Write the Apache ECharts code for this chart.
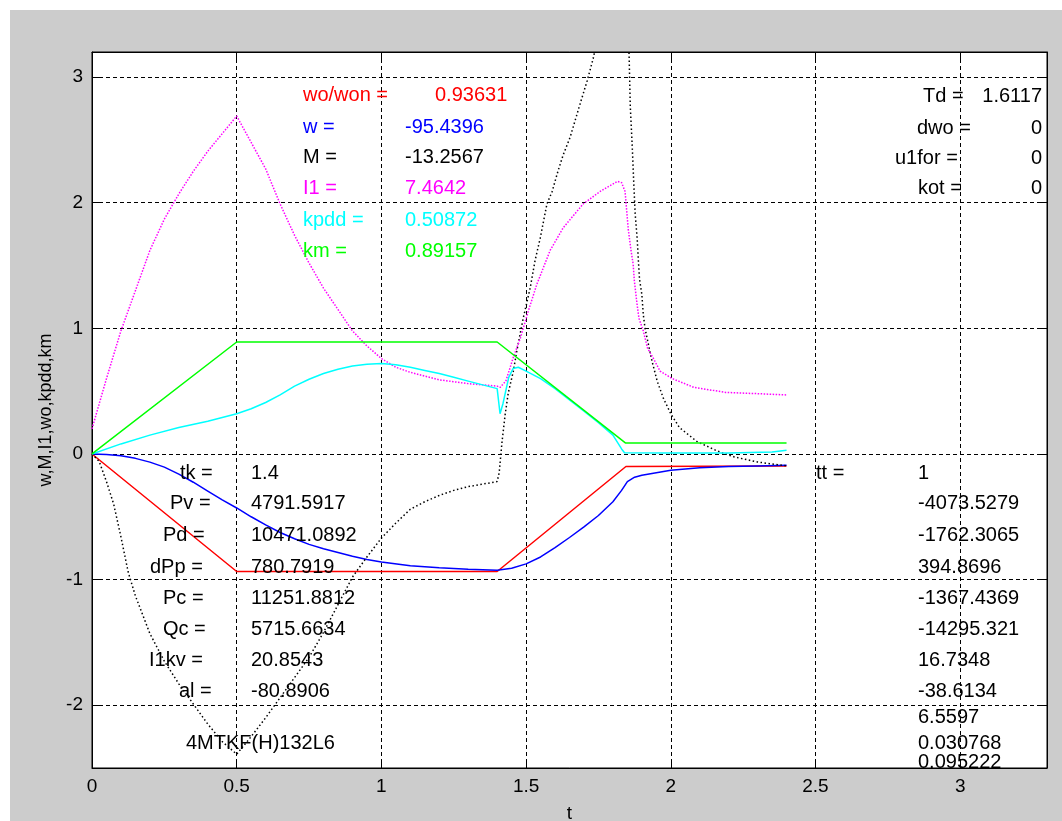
<!DOCTYPE html>
<html>
<head>
<meta charset="utf-8">
<script src="https://cdn.jsdelivr.net/npm/echarts@6/dist/echarts.min.js"></script>
<style>
  html, body { margin: 0; padding: 0; background: #ffffff; width: 1062px; height: 821px; overflow: hidden; }
  #frame { position: absolute; left: 10px; top: 10px; width: 1052px; height: 811px; background: #cccccc; }
  #chart { position: absolute; left: 0; top: 0; width: 1062px; height: 821px; }
</style>
</head>
<body>
<div id="frame"></div>
<div id="chart"></div>
<script>
// ---- simulated start-up traces: [t, value] ----
const woWon = [[0, 0], [0.5, -0.936], [1.4, -0.936], [1.845, -0.1], [2.4, -0.095]];

const wSpeed = [[0, 0], [0.05, -0.004], [0.1, -0.015], [0.15, -0.035], [0.2, -0.065], [0.25, -0.105],
  [0.3, -0.16], [0.35, -0.225], [0.4, -0.295], [0.45, -0.365], [0.5, -0.43], [0.55, -0.5], [0.6, -0.565],
  [0.65, -0.625], [0.7, -0.675], [0.75, -0.72], [0.8, -0.755], [0.85, -0.785], [0.9, -0.815], [0.95, -0.84],
  [1.0, -0.86], [1.1, -0.89], [1.2, -0.905], [1.3, -0.918], [1.4, -0.925], [1.45, -0.91], [1.5, -0.875],
  [1.55, -0.82], [1.6, -0.745], [1.65, -0.665], [1.7, -0.58], [1.75, -0.49], [1.8, -0.38], [1.83, -0.29],
  [1.85, -0.22], [1.875, -0.185], [1.9, -0.17], [1.95, -0.15], [2.0, -0.13], [2.1, -0.11], [2.2, -0.1],
  [2.3, -0.095], [2.4, -0.09]];

const mTorque = [[0, 0], [0.025, -0.06], [0.05, -0.22], [0.075, -0.4], [0.1, -0.66], [0.125, -0.94],
  [0.15, -1.13], [0.2, -1.43], [0.25, -1.65], [0.3, -1.83], [0.35, -1.99], [0.4, -2.15], [0.45, -2.29],
  [0.5, -2.39], [0.55, -2.25], [0.6, -2.1], [0.65, -1.94], [0.7, -1.78], [0.75, -1.62], [0.8, -1.42],
  [0.85, -1.2], [0.9, -0.98], [0.95, -0.82], [1.0, -0.67], [1.05, -0.55], [1.1, -0.44], [1.15, -0.38],
  [1.2, -0.33], [1.25, -0.29], [1.3, -0.26], [1.35, -0.24], [1.4, -0.22], [1.407, -0.15], [1.417, 0.1],
  [1.428, 0.32], [1.438, 0.48], [1.456, 0.66], [1.468, 0.82], [1.49, 1.08], [1.514, 1.32], [1.531, 1.54],
  [1.549, 1.72], [1.572, 1.99], [1.59, 2.09], [1.61, 2.25], [1.628, 2.38], [1.652, 2.52], [1.687, 2.79],
  [1.711, 2.97], [1.732, 3.15], [1.76, 3.45], [1.79, 3.75], [1.82, 3.95], [1.845, 3.75], [1.856, 3.17],
  [1.86, 2.77], [1.867, 2.44], [1.872, 2.16], [1.877, 1.91], [1.884, 1.71], [1.888, 1.54], [1.892, 1.39],
  [1.9, 1.27], [1.905, 1.11], [1.911, 1.0], [1.922, 0.88], [1.935, 0.74], [1.953, 0.58], [1.975, 0.44],
  [2.0, 0.32], [2.03, 0.21], [2.09, 0.1], [2.16, 0.024], [2.22, -0.024], [2.3, -0.064], [2.4, -0.095]];

const i1Current = [[0, 0.2], [0.05, 0.6], [0.1, 0.98], [0.15, 1.3], [0.2, 1.62], [0.25, 1.87], [0.3, 2.07],
  [0.35, 2.25], [0.4, 2.41], [0.45, 2.55], [0.5, 2.69], [0.55, 2.48], [0.6, 2.27], [0.65, 1.99], [0.7, 1.74],
  [0.75, 1.52], [0.8, 1.32], [0.85, 1.15], [0.9, 0.98], [0.95, 0.86], [1.0, 0.76], [1.05, 0.69], [1.1, 0.65],
  [1.15, 0.62], [1.2, 0.59], [1.25, 0.575], [1.3, 0.56], [1.35, 0.55], [1.4, 0.54], [1.41, 0.53], [1.43, 0.58],
  [1.456, 0.77], [1.48, 0.92], [1.508, 1.14], [1.537, 1.35], [1.583, 1.62], [1.628, 1.8], [1.697, 1.99],
  [1.756, 2.09], [1.815, 2.17], [1.83, 2.16], [1.842, 2.09], [1.853, 1.79], [1.862, 1.63], [1.87, 1.51],
  [1.874, 1.38], [1.883, 1.2], [1.89, 1.08], [1.905, 0.98], [1.92, 0.84], [1.94, 0.76], [1.963, 0.66],
  [2.005, 0.6], [2.08, 0.53], [2.19, 0.49], [2.3, 0.48], [2.4, 0.47]];

const kpdd = [[0, 0], [0.1, 0.08], [0.2, 0.15], [0.3, 0.21], [0.4, 0.26], [0.5, 0.32], [0.55, 0.36],
  [0.6, 0.41], [0.65, 0.47], [0.7, 0.54], [0.75, 0.595], [0.8, 0.64], [0.85, 0.675], [0.9, 0.7], [0.95, 0.715],
  [1.0, 0.72], [1.05, 0.71], [1.1, 0.69], [1.15, 0.665], [1.2, 0.64], [1.25, 0.61], [1.3, 0.58], [1.35, 0.55],
  [1.4, 0.52], [1.41, 0.32], [1.42, 0.4], [1.44, 0.61], [1.455, 0.68], [1.473, 0.69], [1.5, 0.66],
  [1.55, 0.6], [1.6, 0.52], [1.65, 0.43], [1.7, 0.34], [1.75, 0.25], [1.8, 0.15], [1.83, 0.04], [1.84, 0.01],
  [2.0, 0.008], [2.2, 0.008], [2.35, 0.015], [2.4, 0.03]];

const km = [[0, 0], [0.5, 0.89157], [1.4, 0.89157], [1.843, 0.088], [2.4, 0.088]];

// ---- annotation texts ----
const topLabels = ['wo/won =', 'w =', 'M =', 'I1 =', 'kpdd =', 'km ='];
const topValues = ['0.93631', '-95.4396', '-13.2567', '7.4642', '0.50872', '0.89157'];
const cornerLabels = ['Td =', 'dwo =', 'u1for =', 'kot ='];
const cornerValues = ['1.6117', '0', '0', '0'];
const resultLabels = ['tk =', 'Pv =', 'Pd =', 'dPp =', 'Pc =', 'Qc =', 'I1kv =', 'al ='];
const resultValues = ['1.4', '4791.5917', '10471.0892', '780.7919', '11251.8812', '5715.6634', '20.8543', '-80.8906'];
const motorName = '4MTKF(H)132L6';
const ttLabel = 'tt =';
const ttValues = ['1', '-4073.5279', '-1762.3065', '394.8696', '-1367.4369', '-14295.321', '16.7348',
  '-38.6134', '6.5597', '0.030768', '0.095222'];

const FONT = '"Liberation Sans", Arial, Helvetica, sans-serif';
const TXT = 20;
const BLACK = '#000000';

const chart = echarts.init(document.getElementById('chart'), null, { renderer: 'canvas' });

function curve(data, color, dash, width) {
  return {
    type: 'line', data: data, xAxisIndex: 0, yAxisIndex: 0,
    symbol: 'none', showSymbol: false, clip: true, silent: true,
    lineStyle: { color: color, width: width, type: dash, cap: 'butt' }
  };
}

function txt(x, y, s, color, align) {
  return {
    type: 'text', x: x, y: y, z: 100, silent: true,
    style: { text: s, fill: color, fontSize: TXT, fontFamily: FONT,
             align: align || 'left', verticalAlign: 'middle' }
  };
}

const graphics = [];
const topColors = ['#ff0000', '#0000ff', '#000000', '#ff00ff', '#00ffff', '#00ff00'];
const topRows = [95, 127, 157, 188, 220, 251];
topLabels.forEach((s, i) => {
  graphics.push(txt(303, topRows[i], s, topColors[i]));
  graphics.push(txt(i === 0 ? 435 : 405, topRows[i], topValues[i], topColors[i]));
});
const cornerRows = [96, 128, 158, 188];
const cornerX = [923, 917, 895, 918];
cornerLabels.forEach((s, i) => {
  graphics.push(txt(cornerX[i], cornerRows[i], s, BLACK));
  graphics.push(txt(1042, cornerRows[i], cornerValues[i], BLACK, 'right'));
});
const resultRows = [473, 503, 535, 567, 598, 629, 660, 691];
const resultX = [180, 170, 163, 150, 163, 163, 149, 179];
resultLabels.forEach((s, i) => {
  graphics.push(txt(resultX[i], resultRows[i], s, BLACK));
  graphics.push(txt(251, resultRows[i], resultValues[i], BLACK));
});
graphics.push(txt(186, 743, motorName, BLACK));
graphics.push(txt(816, 473, ttLabel, BLACK));
const ttRows = [473, 503, 535, 567, 598, 629, 660, 691, 717, 743, 762];
ttValues.forEach((s, i) => graphics.push(txt(918, ttRows[i], s, BLACK)));

const gridDash = { color: BLACK, width: 1, type: [4, 3] };
const frameLine = { show: true, onZero: false, lineStyle: { color: BLACK, width: 1 } };
const innerTick = { show: true, inside: true, length: 7, lineStyle: { color: BLACK, width: 1 } };
const tickFont = { color: BLACK, fontSize: 19, fontFamily: FONT };

const option = {
  animation: false,
  backgroundColor: 'transparent',
  grid: { left: 92, right: 15, top: 52, bottom: 53, show: true, backgroundColor: '#ffffff',
          borderColor: BLACK, borderWidth: 1, containLabel: false, outerBoundsMode: 'none' },
  xAxis: [
    { type: 'value', position: 'bottom', min: 0, max: 3.3, interval: 0.5,
      name: 't', nameLocation: 'middle', nameGap: 36,
      nameTextStyle: { color: BLACK, fontSize: 19, fontFamily: FONT },
      axisLine: frameLine, axisTick: innerTick,
      axisLabel: Object.assign({ margin: 9, showMaxLabel: false }, tickFont),
      splitLine: { show: true, lineStyle: gridDash } },
    { type: 'value', position: 'top', min: 0, max: 3.3, interval: 0.5,
      axisLine: frameLine, axisTick: innerTick, axisLabel: { show: false }, splitLine: { show: false } }
  ],
  yAxis: [
    { type: 'value', position: 'left', min: -2.5, max: 3.2, minInterval: 1, maxInterval: 1,
      name: 'w,M,I1,wo,kpdd,km', nameLocation: 'middle', nameGap: 37, nameRotate: 90,
      nameTextStyle: { color: BLACK, fontSize: 18, fontFamily: FONT },
      axisLine: frameLine, axisTick: innerTick,
      axisLabel: Object.assign({ margin: 9, showMinLabel: false, showMaxLabel: false }, tickFont),
      splitLine: { show: true, lineStyle: gridDash } },
    { type: 'value', position: 'right', min: -2.5, max: 3.2, minInterval: 1, maxInterval: 1,
      axisLine: frameLine, axisTick: innerTick, axisLabel: { show: false }, splitLine: { show: false } }
  ],
  series: [
    curve(woWon, '#ff0000', 'solid', 1.5),
    curve(wSpeed, '#0000ff', 'solid', 1.5),
    curve(mTorque, '#000000', [1.5, 2.5], 1.5),
    curve(i1Current, '#ff00ff', [1.5, 1.5], 1.5),
    curve(kpdd, '#00ffff', 'solid', 1.5),
    curve(km, '#00ff00', 'solid', 1.5)
  ],
  graphic: graphics
};

chart.setOption(option);
</script>
</body>
</html>
